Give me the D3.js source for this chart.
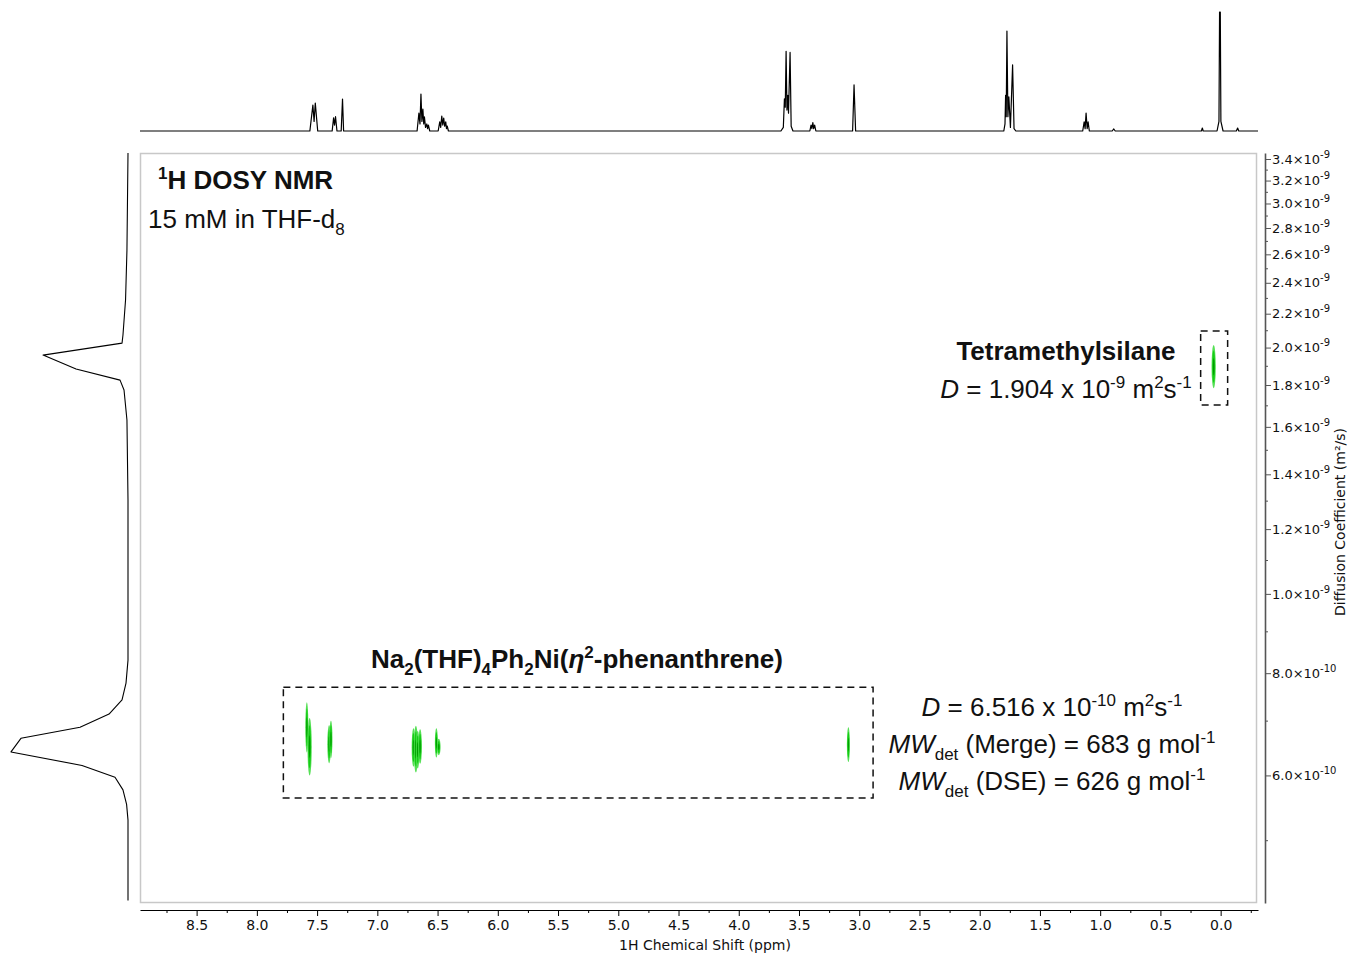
<!DOCTYPE html>
<html>
<head>
<meta charset="utf-8">
<script src="https://cdn.jsdelivr.net/npm/d3@7"></script>
<style>
  body { margin: 0; background: #fff; }
</style>
</head>
<body>
<svg id="chart" width="1347" height="955"></svg>
<script>
// axis ticks
const X_TICKS = [8.5, 8.0, 7.5, 7.0, 6.5, 6.0, 5.5, 5.0, 4.5, 4.0, 3.5, 3.0, 2.5, 2.0, 1.5, 1.0, 0.5, 0.0]
const Y_TICKS = [3.4e-9, 3.2e-9, 3.0e-9, 2.8e-9, 2.6e-9, 2.4e-9, 2.2e-9, 2.0e-9, 1.8e-9, 1.6e-9, 1.4e-9, 1.2e-9, 1.0e-9, 8.0e-10, 6.0e-10]

// 1D 1H spectrum on top (ppm, relative intensity)
const specPpm = [8.97, 7.56, 7.535, 7.525, 7.515, 7.495, 7.375, 7.363, 7.355, 7.347, 7.335, 7.30, 7.289, 7.28,
  6.67, 6.655, 6.646, 6.638, 6.630, 6.622, 6.615, 6.609, 6.60, 6.589, 6.583, 6.576, 6.565,
  6.495, 6.482, 6.474, 6.465, 6.457, 6.449, 6.441, 6.432, 6.426, 6.42, 6.41,
  3.65, 3.63, 3.621, 3.614, 3.607, 3.600, 3.593, 3.587, 3.574, 3.565, 3.55,
  3.41, 3.40, 3.393, 3.385, 3.378, 3.37, 3.36, 3.055, 3.043, 3.03,
  1.80, 1.79, 1.785, 1.78, 1.774, 1.766, 1.758, 1.745, 1.727, 1.715, 1.70,
  1.145, 1.133, 1.125, 1.117, 1.108, 1.100, 1.09, 0.90, 0.887, 0.875, 0.16, 0.152, 0.145,
  0.03, 0.014, 0.009, 0.003, -0.002, -0.02, -0.13, -0.141, -0.15, -0.31]
const specInt = [0, 0, 21.8, 8, 23.5, 0, 0, 11, 5, 12, 0, 0, 26.9, 0,
  0, 15.1, 6, 31.1, 8, 18.5, 6, 11.8, 3, 5.9, 2, 5, 0,
  0, 7.6, 3, 12.6, 5, 10.9, 4, 7.6, 2, 4.2, 0,
  0, 3, 27, 20, 67, 17.6, 30, 15, 66, 4, 0,
  0, 5, 2, 7, 2, 5, 0, 0, 38.7, 0,
  0, 6, 30, 12, 84, 12, 28.6, 3, 55.5, 2, 0,
  0, 7.6, 2, 15, 2, 7.6, 0, 0, 1.7, 0, 0, 2.5, 0,
  0, 8, 100, 100, 8, 0, 0, 2.5, 0, 0]

// projection along diffusion axis (D in 1e-9 m2/s, relative intensity)
const projD = [3.458, 2.631, 2.286, 2.072, 2.025, 1.958, 1.883, 1.825, 1.775, 1.631, 1.302,
  0.830, 0.778, 0.742, 0.713, 0.687, 0.666, 0.641, 0.617, 0.597, 0.576, 0.553, 0.529, 0.422]
const projInt = [0, 0.9, 2.1, 4.3, 5.1, 72.6, 44.4, 6.8, 3.4, 0.9, 0,
  0, 1.7, 5.1, 16.2, 41, 91.5, 100, 39.3, 11.1, 4.3, 1.2, 0, 0]

// DOSY cross peaks (ppm centre, ppm width, D range in 1e-9 m2/s)
const crossPpm = [7.585, 7.562, 7.40, 7.385, 6.70, 6.68, 6.665, 6.645, 6.51, 6.49, 3.09, 0.058]
const crossWidth = [0.025, 0.035, 0.03, 0.025, 0.03, 0.035, 0.03, 0.03, 0.025, 0.03, 0.025, 0.035]
const crossDHigh = [0.737, 0.705, 0.691, 0.700, 0.685, 0.690, 0.680, 0.683, 0.685, 0.665, 0.687, 2.014]
const crossDLow = [0.640, 0.600, 0.621, 0.630, 0.615, 0.605, 0.612, 0.620, 0.631, 0.635, 0.623, 1.784]

// dashed boxes (ppm from/to, D from/to in 1e-9)
const boxPpm = [[7.78, 2.885], [0.166, -0.058]]
const boxD = [[0.769, 0.563], [2.095, 1.701]]

const AXIS_FONT = "'DejaVu Sans', Verdana, sans-serif"
const ANNO_FONT = "'Liberation Sans', Arial, sans-serif"

const svg = d3.select("#chart")

// scales
const x = d3.scaleLinear().domain([8.97, -0.31]).range([140, 1258])
const y = d3.scaleLog().domain([3.458e-9, 0.419e-9]).range([153, 903])
const ySpec = d3.scaleLinear().domain([0, 100]).range([131, 12])
const xProj = d3.scaleLinear().domain([0, 100]).range([128, 11])

// plot frame
svg.append("rect")
    .attr("x", 140.5).attr("y", 153.5)
    .attr("width", 1116).attr("height", 749)
    .attr("fill", "none").attr("stroke", "#c8c8c8").attr("stroke-width", 1.5)

// top 1D spectrum
const specLine = d3.line().x(d => x(d[0])).y(d => ySpec(d[1]))
svg.append("path")
    .datum(specPpm.map((p, i) => [p, specInt[i]]))
    .attr("d", specLine)
    .attr("fill", "none").attr("stroke", "#000").attr("stroke-width", 1.2)
    .attr("stroke-linejoin", "round")

// left projection
const projLine = d3.line().x(d => xProj(d[1])).y(d => y(d[0] * 1e-9))
svg.append("path")
    .datum(projD.map((v, i) => [v, projInt[i]]))
    .attr("d", projLine)
    .attr("fill", "none").attr("stroke", "#000").attr("stroke-width", 1.1)
    .attr("stroke-linejoin", "round")

// cross peaks, drawn as nested contour ellipses
const levels = [{ k: 1, c: "#55e055" }, { k: 0.75, c: "#16cc16" }, { k: 0.4, c: "#009a00" }]
const peaks = svg.append("g")
crossPpm.forEach((p, i) => {
    const y1 = y(crossDHigh[i] * 1e-9), y2 = y(crossDLow[i] * 1e-9)
    const cx = x(p), cy = (y1 + y2) / 2
    const rx = Math.abs(x(p - crossWidth[i] / 2) - x(p + crossWidth[i] / 2)) / 2
    const ry = (y2 - y1) / 2
    levels.forEach(l => {
        peaks.append("ellipse")
            .attr("cx", cx).attr("cy", cy)
            .attr("rx", rx * (l.k === 1 ? 1 : l.k * 0.9)).attr("ry", ry * l.k)
            .attr("fill", l.c)
    })
})

// dashed boxes
boxPpm.forEach((b, i) => {
    const x1 = x(b[0]), x2 = x(b[1])
    const y1 = y(boxD[i][0] * 1e-9), y2 = y(boxD[i][1] * 1e-9)
    svg.append("rect")
        .attr("x", x1).attr("y", y1)
        .attr("width", x2 - x1).attr("height", y2 - y1)
        .attr("fill", "none").attr("stroke", "#111").attr("stroke-width", 1.5)
        .attr("stroke-dasharray", "7,5")
})

// bottom axis
const xAxis = svg.append("g")
    .attr("transform", "translate(0,910)")
    .call(d3.axisBottom(x).tickValues(X_TICKS).tickFormat(d3.format(".1f")).tickSize(6).tickSizeOuter(0).tickPadding(4))
xAxis.selectAll("text").attr("font-family", AXIS_FONT).attr("font-size", 14).attr("fill", "#111")
xAxis.select(".domain").attr("stroke", "#000").attr("stroke-width", 1.2)
const xMinor = d3.range(-1, 36).map(k => k * 0.25).filter(v => v % 0.5 !== 0 && v <= 8.97 && v >= -0.31)
svg.append("g").attr("transform", "translate(0,910)")
    .call(d3.axisBottom(x).tickValues(xMinor).tickFormat("").tickSize(3).tickSizeOuter(0))
    .select(".domain").remove()

svg.append("text")
    .attr("x", 705).attr("y", 950)
    .attr("text-anchor", "middle")
    .attr("font-family", AXIS_FONT).attr("font-size", 14).attr("fill", "#111")
    .text("1H Chemical Shift (ppm)")

// right axis (log diffusion coefficient)
const yAxis = svg.append("g")
    .attr("transform", "translate(1265,0)")
    .call(d3.axisRight(y).tickValues(Y_TICKS).tickSize(6).tickSizeOuter(0).tickPadding(1))
yAxis.select(".domain").attr("stroke", "#555").attr("stroke-width", 1.6)
yAxis.selectAll(".tick line").attr("stroke", "#555")
yAxis.selectAll(".tick text").each(function (d) {
    const e = Math.floor(Math.log10(d) + 1e-9)
    const m = (d / Math.pow(10, e)).toFixed(1)
    const t = d3.select(this).text(null)
        .attr("font-family", AXIS_FONT).attr("font-size", 13).attr("fill", "#111")
    t.append("tspan").text(m + "×10")
    t.append("tspan").attr("dy", -6).attr("font-size", 10).text("-" + Math.abs(e))
})
const yMinor = d3.range(5, 35).map(k => k * 1e-10)
    .filter(v => !Y_TICKS.some(t => Math.abs(t - v) < 1e-12))
svg.append("g").attr("transform", "translate(1265,0)")
    .call(d3.axisRight(y).tickValues(yMinor).tickFormat("").tickSize(3).tickSizeOuter(0))
    .call(g => g.select(".domain").remove())
    .selectAll("line").attr("stroke", "#555")

svg.append("text")
    .attr("transform", "translate(1345,522) rotate(-90)")
    .attr("text-anchor", "middle")
    .attr("font-family", AXIS_FONT).attr("font-size", 14).attr("fill", "#111")
    .text("Diffusion Coefficient (m²/s)")

// rich text helper for sub/superscripts
function rich(px, py, parts, anchor, bold) {
    const t = svg.append("text")
        .attr("x", px).attr("y", py)
        .attr("text-anchor", anchor || "start")
        .attr("font-family", ANNO_FONT).attr("font-size", 26).attr("fill", "#111")
        .attr("font-weight", bold ? "bold" : "normal")
    let shift = 0
    parts.forEach(p => {
        const str = typeof p === "string" ? p : p[0]
        const st = typeof p === "string" ? [] : p[1].split(" ")
        const target = st.includes("sup") ? -10 : st.includes("sub") ? 7 : 0
        const ts = t.append("tspan").attr("dy", target - shift).text(str)
        shift = target
        if (target) ts.attr("font-size", 17)
        if (st.includes("i")) ts.attr("font-style", "italic")
    })
}

rich(158, 189, [["1", "sup"], "H DOSY NMR"], "start", true)
rich(148, 228, ["15 mM in THF-d", ["8", "sub"]])
rich(1066, 360, ["Tetramethylsilane"], "middle", true)
rich(1066, 398, [["D", "i"], " = 1.904 x 10", ["-9", "sup"], " m", ["2", "sup"], "s", ["-1", "sup"]], "middle")
rich(577, 668, ["Na", ["2", "sub"], "(THF)", ["4", "sub"], "Ph", ["2", "sub"], "Ni(", ["η", "i"], ["2", "sup"], "-phenanthrene)"], "middle", true)
rich(1052, 716, [["D", "i"], " = 6.516 x 10", ["-10", "sup"], " m", ["2", "sup"], "s", ["-1", "sup"]], "middle")
rich(1052, 753, [["MW", "i"], ["det", "sub"], " (Merge) = 683 g mol", ["-1", "sup"]], "middle")
rich(1052, 790, [["MW", "i"], ["det", "sub"], " (DSE) = 626 g mol", ["-1", "sup"]], "middle")
</script>
</body>
</html>
